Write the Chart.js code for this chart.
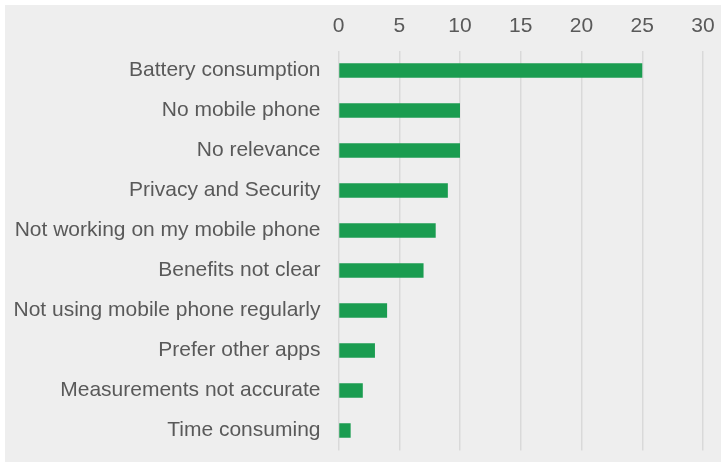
<!DOCTYPE html>
<html>
<head>
<meta charset="utf-8">
<script src="https://cdn.jsdelivr.net/npm/chart.js@4"></script>
<style>
    html, body { margin: 0; padding: 0; background: #ffffff; overflow: hidden; }
    #wrap {
        position: absolute;
        left: 5px;
        top: 5px;
        width: 716px;
        height: 457px;
        background: #eeeeee;
    }
    #barChart { display: block; }
</style>
</head>
<body>
<div id="wrap"><canvas id="barChart" width="716" height="457"></canvas></div>
<script>
// reasons for not using the app
const categories = [
    'Battery consumption',
    'No mobile phone',
    'No relevance',
    'Privacy and Security',
    'Not working on my mobile phone',
    'Benefits not clear',
    'Not using mobile phone regularly',
    'Prefer other apps',
    'Measurements not accurate',
    'Time consuming'
];
const counts = [25, 10, 10, 9, 8, 7, 4, 3, 2, 1];

const axisMin = 0;
const axisMax = 30;
const axisStep = 5;

const barChart = document.getElementById('barChart');

const barChartData = {
    labels: categories,
    datasets: [
        {
            label: 'Count',
            data: counts,
            backgroundColor: '#1a9c50',
            barPercentage: 0.36,
            categoryPercentage: 1,
        },
    ]
};

// drop the automatic edge padding so the plot box is set by layout.padding
function noEdgePadding(scale) {
    scale.paddingTop = 0;
    scale.paddingBottom = 0;
    scale.paddingLeft = 0;
    scale.paddingRight = 0;
}

new Chart(barChart, {
    type: 'bar',
    data: barChartData,
    options: {
        indexAxis: 'y',
        responsive: false,
        animation: false,
        layout: {
            padding: {
                top: 0,
                right: 18,
                bottom: 11.5,
                left: 0
            }
        },
        plugins: {
            legend: { display: false },
            title: { display: false },
            tooltip: { enabled: false },
        },
        scales: {
            x: {
                position: 'top',
                min: axisMin,
                max: axisMax,
                ticks: {
                    stepSize: axisStep,
                    padding: 12,
                    color: '#595959',
                    font: { family: 'Liberation Sans', size: 21 }
                },
                grid: {
                    color: '#d9d9d9',
                    lineWidth: 1.5,
                    drawTicks: false,
                },
                border: { display: false },
                afterFit: function (scale) {
                    scale.height = 45.5;
                    noEdgePadding(scale);
                }
            },
            y: {
                ticks: {
                    padding: 18,
                    color: '#595959',
                    font: { family: 'Liberation Sans', size: 21 }
                },
                grid: { display: false, drawTicks: false },
                border: { display: false },
                afterFit: function (scale) {
                    scale.width = 333.5;
                    noEdgePadding(scale);
                }
            }
        }
    },
});
</script>
</body>
</html>
